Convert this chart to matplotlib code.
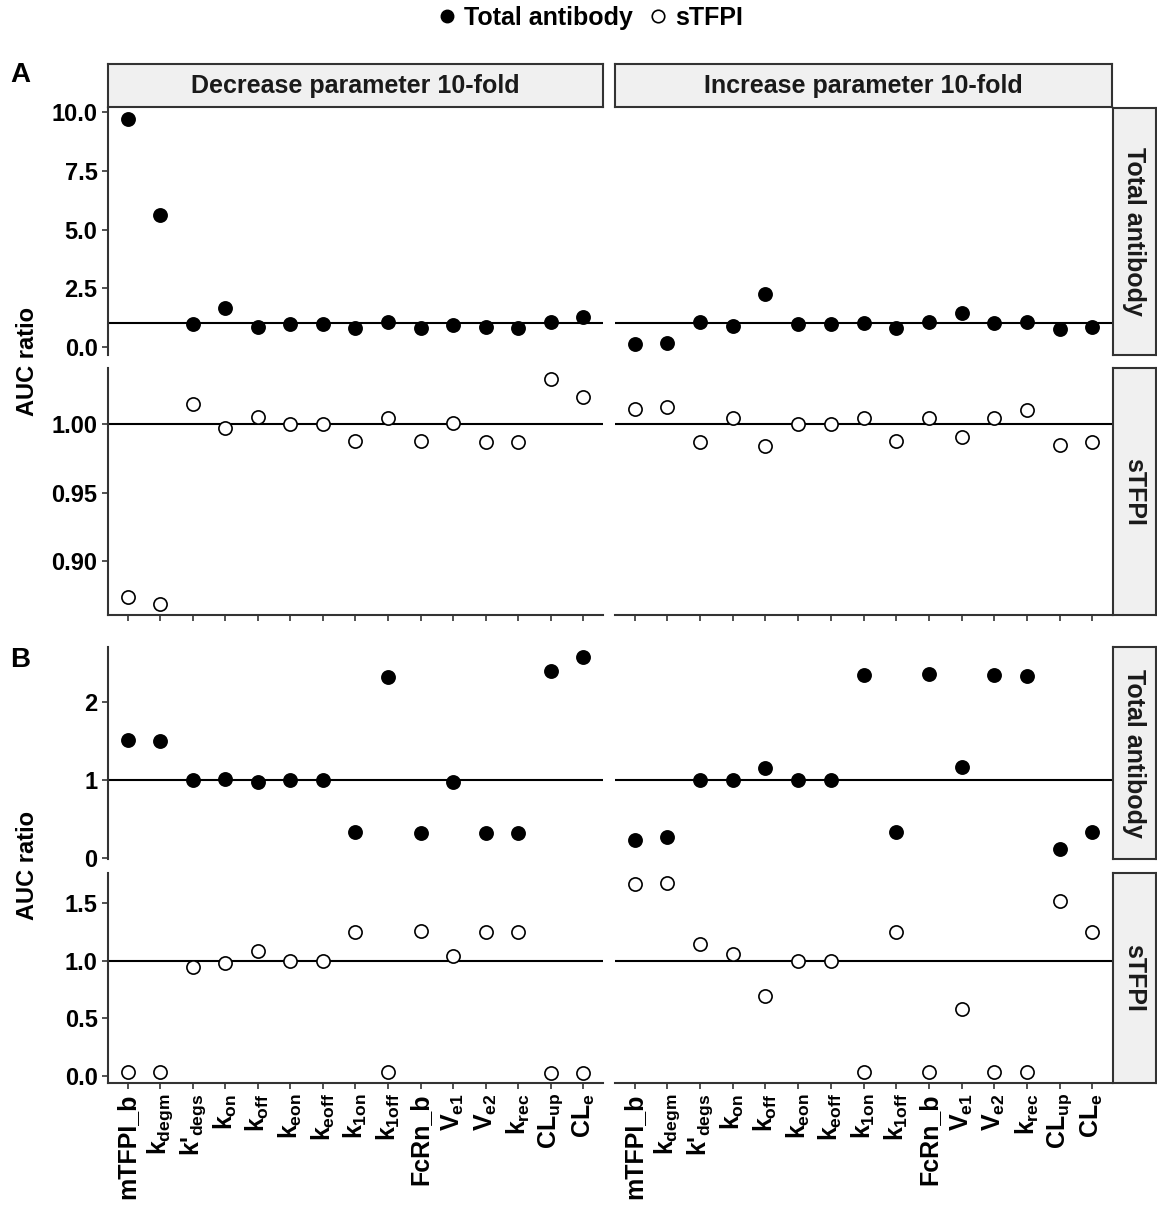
import matplotlib
matplotlib.use("Agg")
import matplotlib.pyplot as plt
from matplotlib.lines import Line2D
from matplotlib.ticker import FormatStrFormatter

plt.rcParams['font.family'] = ['Liberation Sans', 'DejaVu Sans']
plt.rcParams['font.weight'] = 'bold'
plt.rcParams['mathtext.fontset'] = 'custom'
plt.rcParams['mathtext.rm'] = 'Liberation Sans:bold'
plt.rcParams['mathtext.it'] = 'Liberation Sans:bold'
plt.rcParams['mathtext.bf'] = 'Liberation Sans:bold'
plt.rcParams['mathtext.sf'] = 'Liberation Sans:bold'

# parameters on the x axis
params = ['mTFPI_b', r'$k_{degm}$', r"k'$_{degs}$", r'$k_{on}$', r'$k_{off}$',
          r'$k_{eon}$', r'$k_{eoff}$', r'$k_{1on}$', r'$k_{1off}$', 'FcRn_b',
          r'$V_{e1}$', r'$V_{e2}$', r'$k_{rec}$', r'$CL_{up}$', r'$CL_{e}$']

# panel A: AUC ratios
a_tot_dec = [9.70, 5.63, 0.97, 1.66, 0.84, 0.98, 0.98, 0.82, 1.04, 0.82, 0.93, 0.85, 0.82, 1.04, 1.27]
a_tot_inc = [0.13, 0.16, 1.04, 0.88, 2.26, 0.98, 0.98, 1.02, 0.82, 1.04, 1.43, 1.02, 1.04, 0.74, 0.83]
a_stfpi_dec = [0.874, 0.869, 1.0146, 0.9973, 1.0056, 1.0, 1.0, 0.9876, 1.0044, 0.9876,
               1.0007, 0.9867, 0.9867, 1.0328, 1.0201]
a_stfpi_inc = [1.0109, 1.0129, 0.9867, 1.0044, 0.9842, 1.0, 1.0, 1.0044, 0.9879, 1.0044,
               0.9910, 1.0044, 1.0104, 0.9849, 0.9869]

# panel B: AUC ratios
b_tot_dec = [1.51, 1.50, 1.0, 1.01, 0.975, 1.0, 1.0, 0.34, 2.32, 0.33, 0.975, 0.33, 0.33, 2.39, 2.58]
b_tot_inc = [0.23, 0.27, 1.0, 1.0, 1.15, 1.0, 1.0, 2.34, 0.34, 2.36, 1.17, 2.34, 2.33, 0.115, 0.34]
b_stfpi_dec = [0.037, 0.037, 0.946, 0.981, 1.087, 0.997, 1.0, 1.25, 0.037, 1.262, 1.041, 1.25, 1.253, 0.023, 0.029]
b_stfpi_inc = [1.669, 1.678, 1.147, 1.061, 0.694, 1.0, 1.0, 0.037, 1.25, 0.037, 0.579, 0.037, 0.037, 1.52, 1.245]

col_titles = ['Decrease parameter 10-fold', 'Increase parameter 10-fold']
row_titles = ['Total antibody', 'sTFPI']

W, H = 1157, 1207
fig = plt.figure(figsize=(W / 100, H / 100), dpi=100)
FS_TICK = 17
FS_STRIP = 18
FS_X = 18
DARK = '#333333'


def box(x0, y0, x1, y1):
    return [x0 / W, 1 - y1 / H, (x1 - x0) / W, (y1 - y0) / H]


cols = [(108, 603), (615, 1112)]
rows = [
    # (y0, y1, dec, inc, filled, yticks, fmt, xlabels, xaxis)
    (108, 355, a_tot_dec, a_tot_inc, True, [0, 2.5, 5, 7.5, 10], '%.1f', False, False),
    (368, 615, a_stfpi_dec, a_stfpi_inc, False, [0.90, 0.95, 1.00], '%.2f', False, True),
    (647, 859, b_tot_dec, b_tot_inc, True, [0, 1, 2], '%d', False, False),
    (873, 1083, b_stfpi_dec, b_stfpi_inc, False, [0, 0.5, 1.0, 1.5], '%.1f', True, True),
]

xs = list(range(len(params)))

for ri, (y0, y1, dec, inc, filled, yt, fmt, xlab, xaxis) in enumerate(rows):
    left = None
    for ci, (x0, x1) in enumerate(cols):
        ax = fig.add_axes(box(x0, y0, x1, y1), sharey=left)
        vals = dec if ci == 0 else inc
        ax.plot(xs, vals, 'o', ms=9.5,
                mfc='black' if filled else 'white', mec='black', mew=1.2, zorder=3)
        ax.axhline(1, color='black', lw=1.5, zorder=2)
        ax.set_xlim(-0.6, len(params) - 0.4)
        ax.margins(y=0.05)
        for s in ['top', 'right']:
            ax.spines[s].set_visible(False)
        ax.spines['left'].set_visible(ci == 0)
        ax.spines['bottom'].set_visible(xaxis)
        for s in ['left', 'bottom']:
            ax.spines[s].set_color(DARK)
            ax.spines[s].set_linewidth(1.5)
        ax.tick_params(colors=DARK, width=1.2, length=4, labelsize=FS_TICK, labelcolor='black')
        ax.set_xticks(xs)
        if xlab:
            ax.set_xticklabels(params, rotation=90, fontsize=FS_X, fontweight='bold')
        else:
            ax.set_xticklabels([])
        if not xaxis:
            ax.tick_params(axis='x', length=0)
        if ci == 0:
            ax.set_yticks(yt)
            ax.yaxis.set_major_formatter(FormatStrFormatter(fmt))
            left = ax
        else:
            ax.tick_params(axis='y', length=0, labelleft=False)

    # row strip on the right
    sax = fig.add_axes(box(1113, y0, 1156, y1))
    sax.set_facecolor('#F0F0F0')
    sax.set_xticks([])
    sax.set_yticks([])
    for s in sax.spines.values():
        s.set_color(DARK)
        s.set_linewidth(1.5)
    sax.text(0.5, 0.5, row_titles[ri % 2], rotation=-90, ha='center', va='center',
             fontsize=FS_STRIP, fontweight='bold', color='#1a1a1a', transform=sax.transAxes)

# column strips (panel A only)
for ci, (x0, x1) in enumerate(cols):
    sax = fig.add_axes(box(x0, 64, x1, 107))
    sax.set_facecolor('#F0F0F0')
    sax.set_xticks([])
    sax.set_yticks([])
    for s in sax.spines.values():
        s.set_color(DARK)
        s.set_linewidth(1.5)
    sax.text(0.5, 0.5, col_titles[ci], ha='center', va='center',
             fontsize=FS_STRIP, fontweight='bold', color='#1a1a1a', transform=sax.transAxes)

# y labels and panel letters
fig.text(28 / W, 1 - 361 / H, 'AUC ratio', rotation=90, ha='center', va='center',
         fontsize=FS_TICK, fontweight='bold')
fig.text(28 / W, 1 - 865 / H, 'AUC ratio', rotation=90, ha='center', va='center',
         fontsize=FS_TICK, fontweight='bold')
fig.text(10 / W, 1 - 75 / H, 'A', ha='left', va='center', fontsize=20, fontweight='bold')
fig.text(10 / W, 1 - 660 / H, 'B', ha='left', va='center', fontsize=20, fontweight='bold')

# legend
handles = [Line2D([], [], ls='', marker='o', ms=9, mfc='black', mec='black'),
           Line2D([], [], ls='', marker='o', ms=9, mfc='white', mec='black', mew=1.2)]
fig.legend(handles, ['Total antibody', 'sTFPI'], loc='center', bbox_to_anchor=(0.51, 1 - 18 / H),
           ncol=2, frameon=False, handlelength=0.8, handletextpad=0.3, columnspacing=0.6,
           prop={'weight': 'bold', 'size': FS_STRIP})

fig.savefig('out.png', dpi=100)
